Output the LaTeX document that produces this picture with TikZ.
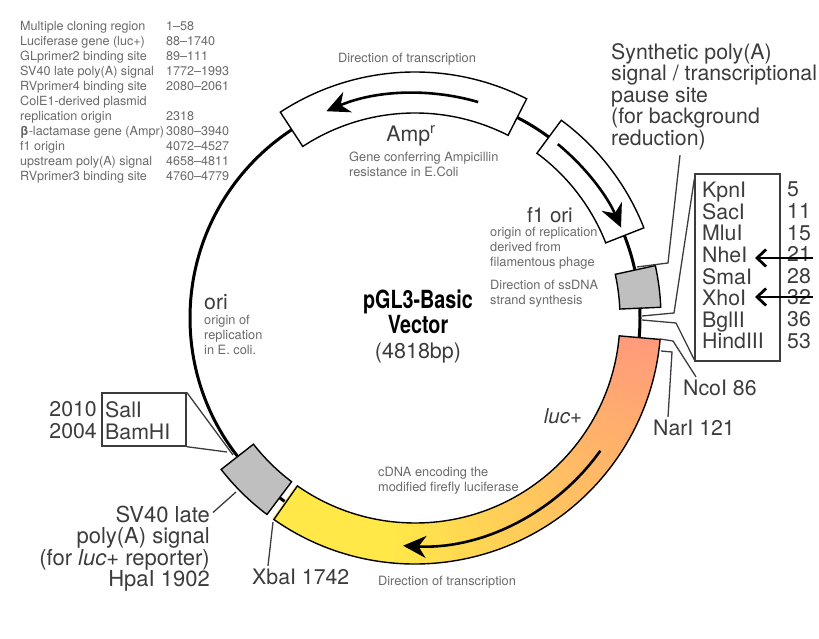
\documentclass[tikz,border=0pt]{standalone}
\usepackage{fontspec}
\setmainfont{TeX Gyre Heros}
\newfontfamily\condfont[FakeStretch=0.79]{TeX Gyre Heros}
\usetikzlibrary{arrows.meta,positioning}
\definecolor{lucorange}{RGB}{255,155,122}
\definecolor{lucyellow}{RGB}{255,232,72}
\definecolor{txtdark}{RGB}{60,60,60}
\definecolor{txtsmall}{RGB}{105,105,105}
\tikzset{
    %Define standard arrow tip
    >={Stealth[length=23pt,width=22pt]},
    %Define styles for labels
    biglbl/.style={
           inner sep=0pt,
           text=txtdark,
           align=left,
           font=\fontsize{21.3}{21.6}\selectfont},
    smalllbl/.style={
           inner sep=0pt,
           text=txtsmall,
           align=left,
           font=\fontsize{12.8}{15}\selectfont},
    %Define style for ring segments
    seg/.style={
           draw=black,
           line width=1.4pt,
           line join=miter},
    %Define style for boxes
    sitebox/.style={
           rectangle,
           draw=txtdark,
           line width=1.4pt,
           inner sep=0pt},
    % Define line styles
    lead/.style={
           draw=txtdark,
           line width=1.3pt},
    dirarrow/.style={
           ->,
           line width=2.6pt},
    pointer/.style={
           -{Straight Barb[length=9pt,width=17pt]},
           line width=2.8pt}
}
\newcommand{\ringseg}[3]{\path[#1] (#2:205pt) arc[start angle=#2,end angle=#3,radius=205pt]
  -- (#3:246pt) arc[start angle=#3,end angle=#2,radius=246pt] -- cycle;}

\begin{document}
\begin{tikzpicture}[x=1pt,y=1pt]
  \useasboundingbox (0,0) rectangle (819,639);
  % plasmid ring
  \begin{scope}[shift={(415,321)}]
    \draw[line width=3pt] (0,0) circle (225pt);
    \ringseg{seg,fill=white}{63}{123.2}
    \ringseg{seg,fill=white}{21.5}{53.5}
    \ringseg{seg,fill=black!25}{2.5}{12.3}
    \ringseg{seg,fill=black!25}{218}{233}
    \foreach \a in {-5,-7,...,-123} {
      \pgfmathsetmacro{\mix}{max(0,100-(-5-\a)*100/90)}
      \fill[lucorange!\mix!lucyellow] (\a:205pt) arc[start angle=\a,end angle=\a-2.4,radius=205pt]
        -- (\a-2.4:246pt) arc[start angle=\a-2.4,end angle=\a,radius=246pt] -- cycle;
    }
    \ringseg{seg}{-5}{-125}
    \draw[dirarrow] (73.7:225pt) arc[start angle=73.7,end angle=113.2,radius=225pt];
    \draw[dirarrow] (50.6:225pt) arc[start angle=50.6,end angle=23.7,radius=225pt];
    \draw[dirarrow] (-35.6:228pt) arc[start angle=-35.6,end angle=-93,radius=228pt];
  \end{scope}
  % feature table
  \node[smalllbl,font=\fontsize{12.6}{15}\selectfont,anchor=north west] (features) at (20,618) {Multiple cloning region\\Luciferase gene (luc+)\\GLprimer2 binding site\\SV40 late poly(A) signal\\RVprimer4 binding site\\ColE1-derived plasmid\\replication origin\\\textbf{β}-lactamase gene (Ampr)\\f1 origin\\upstream poly(A) signal\\RVprimer3 binding site};
  \node[smalllbl,font=\fontsize{12.6}{15}\selectfont,anchor=north west] (positions) at (166,618) {1–58\\88–1740\\89–111\\1772–1993\\2080–2061\\\mbox{}\\2318\\3080–3940\\4072–4527\\4658–4811\\4760–4779};
  % ring labels
  \node[smalllbl,anchor=center] (dirtop) at (407,580) {Direction of transcription};
  \node[biglbl,anchor=center] (amp) at (411,503) {Amp\textsuperscript{r}};
  \node[smalllbl,anchor=north west] (ampnote) at (349,487) {Gene conferring Ampicillin\\resistance in E.Coli};
  \node[biglbl,font=\fontsize{20.5}{21.6}\selectfont,anchor=center] (fori) at (550,424) {f1 ori};
  \node[smalllbl,anchor=north west] (forinote) at (490,412) {origin of replication\\derived from\\filamentous phage};
  \node[smalllbl,anchor=north west] (ssdna) at (490,359) {Direction of ssDNA\\strand synthesis};
  \node[biglbl,anchor=north west] (synth) at (611,596) {Synthetic poly(A)\\signal / transcriptional\\pause site\\(for background\\reduction)};
  \node[biglbl,anchor=west] (ori) at (204,337) {ori};
  \node[smalllbl,anchor=north west] (orinote) at (204,324) {origin of\\replication\\in E. coli.};
  \node[inner sep=0pt,align=center,font=\condfont\fontsize{25}{23}\selectfont\bfseries] (title) at (418,327) {pGL3-Basic\\Vector};
  \node[biglbl,font=\fontsize{21.5}{22}\selectfont,below=9pt of title] (size) {(4818bp)};
  \node[biglbl,font=\fontsize{20.5}{21.6}\selectfont,anchor=center] (luc) at (563,223) {\itshape luc+};
  \node[smalllbl,anchor=north west] (cdna) at (378,172) {cDNA encoding the\\modified firefly luciferase};
  \node[smalllbl,anchor=center] (dirbot) at (447,57) {Direction of transcription};
  % restriction sites
  \node[sitebox,minimum width=85pt,minimum height=187pt] (mcsbox) at (737.5,371.5) {};
  \node[biglbl,anchor=north west] (mcsnames) at (702,457) {KpnI\\SacI\\MluI\\NheI\\SmaI\\XhoI\\BglII\\HindIII};
  \node[biglbl,anchor=north west] (mcspos) at (787,457) {5\\11\\15\\21\\28\\32\\36\\53};
  \node[biglbl,anchor=west] (ncoi) at (683,251) {NcoI 86};
  \node[biglbl,anchor=west] (nari) at (653,211) {NarI 121};
  \node[sitebox,minimum width=84pt,minimum height=53pt] (salbox) at (144,219.5) {};
  \node[biglbl,anchor=north west] (salnames) at (105,237.5) {SalI\\BamHI};
  \node[biglbl,align=right,anchor=north east] (salpos) at (97,237.5) {2010\\2004};
  \node[biglbl,font=\fontsize{22}{21.6}\selectfont,align=right,anchor=north east] (sv40) at (210,133.5) {SV40 late\hspace{7pt}\\poly(A) signal\\(for \textit{luc}+ reporter)\\HpaI 1902\hspace{7pt}};
  \node[biglbl,anchor=west] (xbai) at (252,62) {XbaI 1742};
  % connector ends
  \coordinate (synthend) at (637,372);
  \coordinate (mcstop) at (642,323);
  \coordinate (mcsbot) at (642,319);
  \coordinate (ncoend) at (660,300);
  \coordinate (narend) at (661,288);
  \coordinate (salup) at (233,184);
  \coordinate (saldown) at (227,187);
  \coordinate (sv40end) at (236,147);
  \coordinate (xbaend) at (273,117);
  \coordinate (nhefrom) at (813,381);
  \coordinate (xhofrom) at (813,342);
  % connectors
  \draw[lead] (synth.south west -| 680,0) ++(0,-5) -- (668,376) -- (synthend);
  \draw[lead] ([yshift=-6pt]mcsbox.north west) -- (674,326) -- (mcstop);
  \draw[lead] ([yshift=2pt]mcsbox.south west) -- (676,316) -- (mcsbot);
  \draw[lead] ([xshift=13pt,yshift=3pt]ncoi.north west) -- (673,298) -- (ncoend);
  \draw[lead] ([xshift=15pt,yshift=3pt]nari.north west) -- (672,287) -- (narend);
  \draw[lead] (salbox.north east) -- (salup);
  \draw[lead] (salbox.south east) -- (saldown);
  \draw[lead] ([xshift=3pt,yshift=-7pt]sv40.north east) -- (sv40end);
  \draw[lead] ([xshift=16pt,yshift=3pt]xbai.north west) -- (xbaend);
  \draw[pointer] (nhefrom) -- (755,381);
  \draw[pointer] (xhofrom) -- (755,342);
\end{tikzpicture}
\end{document}
